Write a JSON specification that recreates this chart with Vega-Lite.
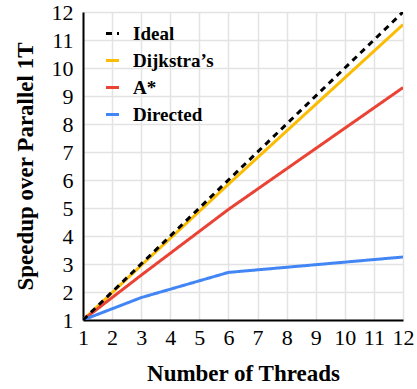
{
  "$schema": "https://vega.github.io/schema/vega-lite/v6.json",
  "autosize": "none",
  "width": 320,
  "height": 308,
  "padding": {"left": 83, "top": 12, "right": 14, "bottom": 69},
  "background": "white",
  "config": {
    "font": "Liberation Serif",
    "view": {"stroke": null},
    "axis": {
      "labelFont": "Liberation Serif",
      "titleFont": "Liberation Serif",
      "labelFontSize": 22,
      "titleFontSize": 23,
      "titleFontWeight": "bold",
      "labelColor": "black",
      "titleColor": "black",
      "gridColor": "#e3e3e3",
      "gridWidth": 1.5,
      "domainColor": "black",
      "domainWidth": 2,
      "ticks": false
    }
  },
  "data": {
    "values": [
      {"threads": 1, "speedup": 1, "series": "Ideal"},
      {"threads": 12, "speedup": 12, "series": "Ideal"},
      {"threads": 1, "speedup": 1, "series": "Dijkstra’s"},
      {"threads": 3, "speedup": 2.95, "series": "Dijkstra’s"},
      {"threads": 6, "speedup": 5.85, "series": "Dijkstra’s"},
      {"threads": 12, "speedup": 11.55, "series": "Dijkstra’s"},
      {"threads": 1, "speedup": 1, "series": "A*"},
      {"threads": 3, "speedup": 2.6, "series": "A*"},
      {"threads": 6, "speedup": 4.95, "series": "A*"},
      {"threads": 12, "speedup": 9.3, "series": "A*"},
      {"threads": 1, "speedup": 1, "series": "Directed"},
      {"threads": 3, "speedup": 1.8, "series": "Directed"},
      {"threads": 6, "speedup": 2.7, "series": "Directed"},
      {"threads": 12, "speedup": 3.25, "series": "Directed"}
    ]
  },
  "encoding": {
    "x": {
      "field": "threads", "type": "quantitative",
      "scale": {"domain": [1, 12], "nice": false},
      "axis": {"values": [1,2,3,4,5,6,7,8,9,10,11,12], "title": "Number of Threads", "labelPadding": 7, "titlePadding": 14,
        "labelOverlap": false, "labelFlush": false}
    },
    "y": {
      "field": "speedup", "type": "quantitative",
      "scale": {"domain": [1, 12], "nice": false},
      "axis": {"values": [1,2,3,4,5,6,7,8,9,10,11,12], "title": "Speedup over Parallel 1T", "labelPadding": 10, "titlePadding": 14,
        "labelOverlap": false, "labelFlush": false}
    },
    "color": {
      "field": "series", "type": "nominal",
      "scale": {"domain": ["Ideal", "Dijkstra’s", "A*", "Directed"], "range": ["#000000", "#FBBC04", "#EA4335", "#4285F4"]},
      "legend": {
        "title": null, "orient": "none", "legendX": 20, "legendY": 12,
        "labelFont": "Liberation Serif", "labelFontSize": 19, "labelFontWeight": "bold", "labelColor": "black",
        "symbolType": "stroke", "symbolSize": 170, "symbolStrokeWidth": 3, "rowPadding": 7, "labelOffset": 11
      }
    },
    "strokeDash": {
      "field": "series", "type": "nominal",
      "scale": {"domain": ["Ideal", "Dijkstra’s", "A*", "Directed"], "range": [[6, 5], [1, 0], [1, 0], [1, 0]]},
      "legend": {
        "title": null, "orient": "none", "legendX": 20, "legendY": 12,
        "labelFont": "Liberation Serif", "labelFontSize": 19, "labelFontWeight": "bold", "labelColor": "black",
        "symbolType": "stroke", "symbolSize": 170, "symbolStrokeWidth": 3, "rowPadding": 7, "labelOffset": 11
      }
    }
  },
  "layer": [
    {
      "transform": [{"filter": "datum.series !== 'Ideal'"}],
      "mark": {"type": "line", "strokeWidth": 3, "clip": true}
    },
    {
      "transform": [{"filter": "datum.series === 'Ideal'"}],
      "mark": {"type": "line", "strokeWidth": 3, "clip": true}
    }
  ]
}
